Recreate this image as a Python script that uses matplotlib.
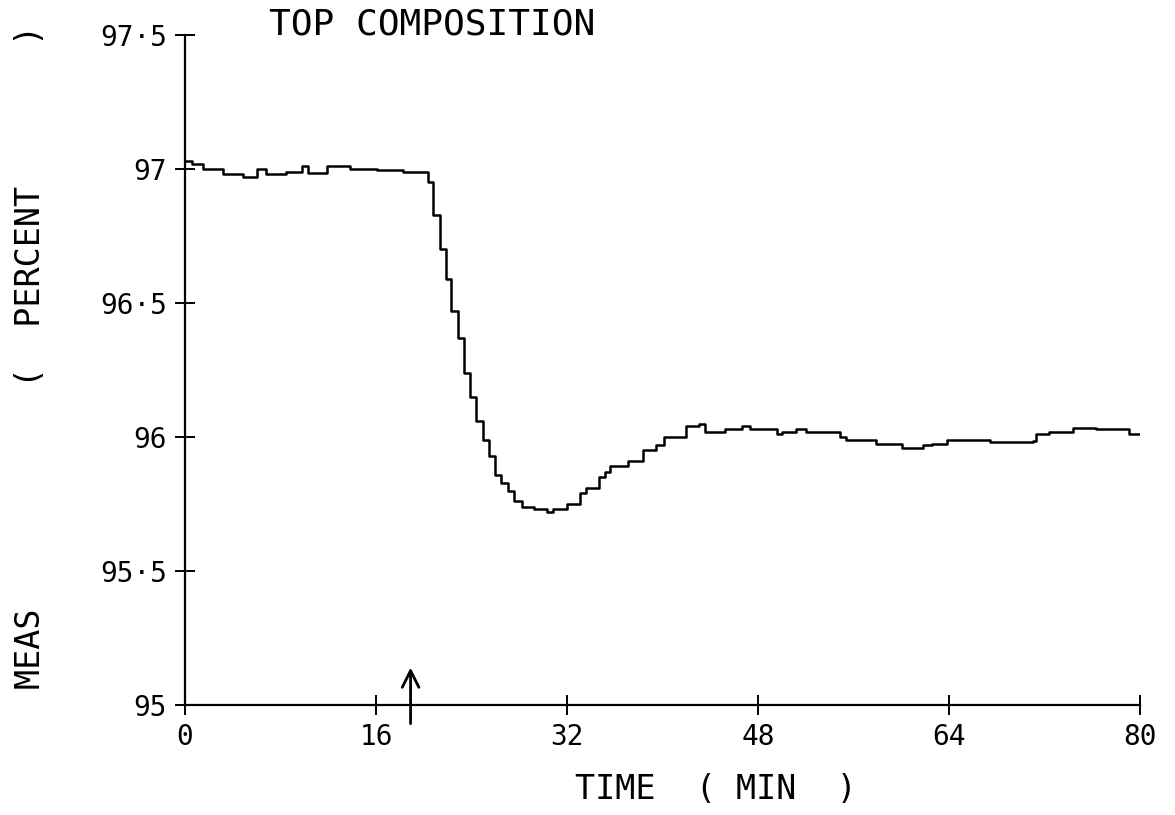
import numpy as np
import matplotlib
matplotlib.use("Agg")
import matplotlib.pyplot as plt

plt.rcParams['font.family'] = ['DejaVu Sans Mono', 'DejaVu Sans']

# measured top composition, step trace (time in min, value in percent)
time_min = [0, 0.6, 1.5, 3.2, 4.9, 6.0, 6.8, 8.5, 9.8, 10.3,
            11.9, 13.8, 16.1, 18.3, 20.4, 20.8, 21.4, 21.9, 22.3, 22.9,
            23.4, 23.9, 24.4, 25.0, 25.5, 26.0, 26.5, 27.1, 27.6, 28.2,
            29.2, 30.3, 30.8, 32.0, 33.1, 33.6, 34.7, 35.2, 35.6, 37.1,
            38.4, 39.5, 40.1, 40.6, 42.0, 43.1, 43.6, 44.6, 45.2, 46.7,
            47.3, 49.6, 50.0, 51.2, 52.0, 54.9, 55.4, 57.9, 60.1, 61.8,
            62.6, 63.8, 67.4, 71.0, 71.3, 72.4, 74.4, 76.3, 78.6, 79.1,
            80.0]
meas = [97.03, 97.02, 97.00, 96.98, 96.97, 97.00, 96.98, 96.99, 97.01, 96.985,
        97.01, 97.00, 96.995, 96.99, 96.95, 96.83, 96.70, 96.59, 96.47, 96.37,
        96.24, 96.15, 96.06, 95.99, 95.93, 95.86, 95.83, 95.80, 95.76, 95.74,
        95.73, 95.72, 95.73, 95.75, 95.79, 95.81, 95.85, 95.87, 95.89, 95.91,
        95.95, 95.97, 96.00, 96.00, 96.04, 96.05, 96.02, 96.02, 96.03, 96.04,
        96.03, 96.01, 96.02, 96.03, 96.02, 96.00, 95.99, 95.975, 95.96, 95.97,
        95.975, 95.99, 95.98, 95.985, 96.01, 96.02, 96.035, 96.03, 96.03, 96.01,
        96.01]

x_ticks = [0, 16, 32, 48, 64, 80]
x_labels = ["0", "16", "32", "48", "64", "80"]
y_ticks = [95, 95.5, 96, 96.5, 97, 97.5]
y_labels = ["95", "95·5", "96", "96·5", "97", "97·5"]

step_time = 18.9  # arrow marking the disturbance

fig = plt.figure(figsize=(11.75, 8.15), dpi=100)
ax = fig.add_axes([0.1574, 0.135, 0.8128, 0.822])

ax.plot(time_min, meas, drawstyle="steps-post", color="black", lw=1.8)

ax.set_xlim(0, 80)
ax.set_ylim(95, 97.5)
ax.spines["top"].set_visible(False)
ax.spines["right"].set_visible(False)
ax.spines["left"].set_linewidth(1.6)
ax.spines["bottom"].set_linewidth(1.6)
ax.set_xticks(x_ticks)
ax.set_xticklabels(x_labels)
ax.set_yticks(y_ticks)
ax.set_yticklabels(y_labels)
ax.tick_params(direction="inout", length=14, width=1.4, labelsize=20, pad=6)

ax.annotate("", xy=(step_time, 95.15), xytext=(step_time, 94.92),
            arrowprops=dict(arrowstyle="->", lw=2, color="black",
                            mutation_scale=30),
            annotation_clip=False)

fig.text(0.229, 0.97, "TOP COMPOSITION", fontsize=26, va="center")
fig.text(0.489, 0.031, "TIME  ( MIN  )", fontsize=24, ha="left", va="center")
fig.text(0.026, 0.562, "MEAS           (  PERCENT       )", fontsize=24,
         rotation=90, ha="center", va="center")

plt.savefig("out.png")
